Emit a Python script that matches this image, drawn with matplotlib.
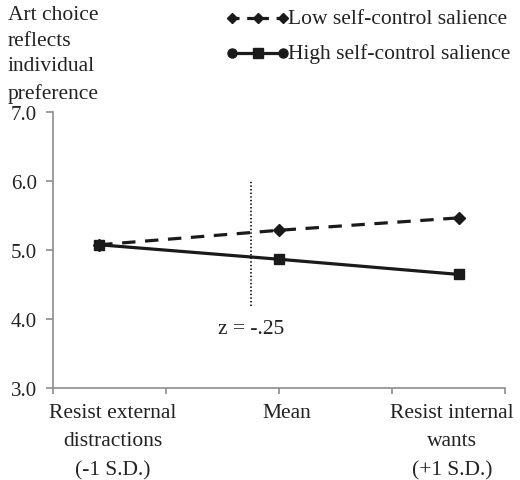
import matplotlib
matplotlib.use('Agg')
import matplotlib.pyplot as plt
from matplotlib.lines import Line2D

plt.rcParams['font.family'] = ['Liberation Serif', 'DejaVu Serif']

# data
x_pos = [-1, 0, 1]
low_salience = [5.07, 5.28, 5.46]
high_salience = [5.07, 4.86, 4.64]
cat_labels = ['Resist external\ndistractions\n(-1 S.D.)', 'Mean', 'Resist internal\nwants\n(+1 S.D.)']
cat_label_x = [-0.925, 0.045, 0.96]
y_ticks = [3.0, 4.0, 5.0, 6.0, 7.0]
x_ticks = [-1.255, -0.628, 0, 0.628, 1.255]
z_line_x = -0.157
z_line_y = [4.18, 6.0]

grey = '#8c8c8c'
ink = '#1a1a1a'
txt = '#222222'
fs = 15.5

fig = plt.figure(figsize=(5.2, 4.81), dpi=100)
ax = fig.add_axes([0.1025, 0.192, 0.8685, 0.574])

ax.plot(x_pos, low_salience, color=ink, lw=2.3, ls=(0, (4.2, 3.0)),
        marker='D', markersize=6.5)
ax.plot(x_pos, high_salience, color=ink, lw=2.3, ls='-',
        marker='s', markersize=7.5)
ax.plot([z_line_x, z_line_x], z_line_y, color=ink, lw=1.3, ls=(0, (0.8, 1.2)))
ax.text(z_line_x, 3.86, 'z = -.25', ha='center', va='center', fontsize=fs, color=txt)

ax.set_xlim(x_ticks[0], x_ticks[-1])
ax.set_ylim(3.0, 7.0)
ax.set_yticks(y_ticks)
ax.set_yticklabels(['%.1f' % v for v in y_ticks])
ax.set_xticks(x_ticks)
ax.set_xticklabels([])
for s in ['top', 'right']:
    ax.spines[s].set_visible(False)
for s in ['left', 'bottom']:
    ax.spines[s].set_color(grey)
    ax.spines[s].set_linewidth(1.2)
ax.tick_params(axis='y', length=5, width=1.2, color=grey, pad=7, labelsize=15, labelcolor=txt)
ax.tick_params(axis='x', length=4, width=1.2, color=grey)

for xl, lab in zip(cat_label_x, cat_labels):
    ax.text(xl, 2.78, lab, ha='center', va='top', fontsize=fs, color=txt,
            linespacing=1.68)

fig.text(0.015, 0.988, 'Art choice\nreflects\nindividual\npreference', ha='left', va='top',
         fontsize=fs, color=txt, linespacing=1.49)

# legend drawn by hand (key markers differ from the plotted ones)
kx = [0.447, 0.496, 0.545]
ky_low, ky_high = 0.9595, 0.8875
fig.add_artist(Line2D(kx, [ky_low] * 3, transform=fig.transFigure, color=ink, lw=2.3,
                      ls=(0, (2.2, 2.4)), marker='D', markersize=5.5))
fig.add_artist(Line2D(kx, [ky_high] * 3, transform=fig.transFigure, color=ink, lw=2.3,
                      ls='-'))
fig.add_artist(Line2D([kx[0], kx[2]], [ky_high] * 2, transform=fig.transFigure, color=ink,
                      ls='none', marker='o', markersize=6.5))
fig.add_artist(Line2D([kx[1]], [ky_high], transform=fig.transFigure, color=ink,
                      ls='none', marker='s', markersize=6.5))
fig.text(0.553, ky_low, 'Low self-control salience', ha='left', va='center', fontsize=fs, color=txt)
fig.text(0.553, ky_high, 'High self-control salience', ha='left', va='center', fontsize=fs, color=txt)

fig.savefig('out.png', dpi=100)
